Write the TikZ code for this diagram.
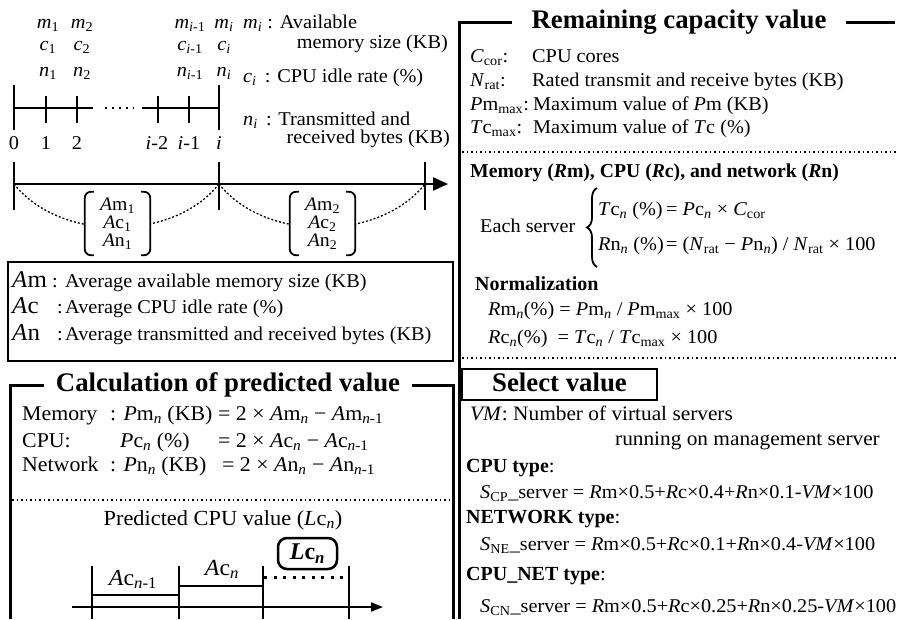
\documentclass[tikz,border=0pt]{standalone}
\usepackage{fontspec}
\setmainfont{Liberation Serif}[UprightFeatures={FakeStretch=1.04},ItalicFeatures={FakeStretch=1.04}]
\usetikzlibrary{arrows.meta,decorations.pathreplacing}
\newcommand\sbs[1]{\textsubscript{#1}}
\newcommand\isb[1]{\textsubscript{\textit{#1}}}
\begin{document}
\begin{tikzpicture}[x=1pt,y=-1pt,
  txt/.style={inner sep=0pt,anchor=west,text height=14pt,text depth=4pt,font=\fontsize{19.5}{22}\selectfont},
  mid/.style={txt,anchor=center},
  big/.style={txt,font=\fontsize{24}{26}\selectfont},
  calc/.style={txt,font=\fontsize{21}{23}\selectfont},
  wide/.style={txt,font=\fontsize{20.5}{23}\selectfont},
  hd/.style={txt,font=\fontsize{20}{22}\selectfont\bfseries},
  ttl/.style={inner sep=0pt,text height=18pt,text depth=5pt,font=\fontsize{26.8}{28}\selectfont\bfseries},
  frame/.style={line width=3pt},
  thinframe/.style={line width=1.5pt},
  axis/.style={line width=2pt},
  dotline/.style={line width=1.5pt,dash pattern=on 1.5pt off 3pt},
  arcline/.style={line width=1.3pt,dash pattern=on 2pt off 2pt},
  bracketed/.style={fill=white,inner sep=0pt,minimum width=65pt,minimum height=63pt,align=center,font=\fontsize{19}{18}\selectfont},
]
\useasboundingbox (0,0) rectangle (897,619);

% ---------- sampling timeline ----------
\coordinate (a0) at (14,108);
\coordinate (a2) at (93,108);
\coordinate (a3) at (142,108);
\coordinate (ai) at (219,108);
\draw[axis] (a0) -- (a2);
\draw[axis] (a3) -- (ai);
\draw[line width=2pt,dash pattern=on 2pt off 5pt] (105,108) -- (134,108);
\foreach \x in {14,219} \draw[axis] (\x,85) -- (\x,130);
\foreach \x in {46,77,158,189} \draw[axis] (\x,96) -- (\x,123);

\node[mid] (t0) at (14,144) {0};
\node[mid] (t1) at (46,144) {1};
\node[mid] (t2) at (77,144) {2};
\node[mid] (ti2) at (157,144) {\textit{i}-2};
\node[mid] (ti1) at (189,144) {\textit{i}-1};
\node[mid] (ti) at (219,144) {\textit{i}};

\node[mid] (m1) at (48,23) {\textit{m}\sbs{1}};
\node[mid] (c1) at (48,45) {\textit{c}\sbs{1}};
\node[mid] (n1) at (48,71) {\textit{n}\sbs{1}};
\node[mid] (m2) at (82,23) {\textit{m}\sbs{2}};
\node[mid] (c2) at (82,45) {\textit{c}\sbs{2}};
\node[mid] (n2) at (82,71) {\textit{n}\sbs{2}};
\node[mid] (mi1) at (190,23) {\textit{m}\textsubscript{\textit{i}-1}};
\node[mid] (ci1) at (190,45) {\textit{c}\textsubscript{\textit{i}-1}};
\node[mid] (ni1) at (190,71) {\textit{n}\textsubscript{\textit{i}-1}};
\node[mid] (mi) at (224,23) {\textit{m}\isb{i}};
\node[mid] (ci) at (224,45) {\textit{c}\isb{i}};
\node[mid] (ni) at (224,71) {\textit{n}\isb{i}};

\node[txt] (lm) at (243,23) {\textit{m}\isb{i} : Available};
\node[txt,anchor=east] (lm2) at (448,43) {memory size (KB)};
\node[txt] (lc) at (243,77) {\textit{c}\isb{i} \,: CPU idle rate (\%)};
\node[txt] (ln) at (243,120) {\textit{n}\isb{i} \,: Transmitted and};
\node[txt,anchor=east] (ln2) at (450,138) {received bytes (KB)};

% ---------- averaging intervals ----------
\coordinate (b0) at (14,184);
\coordinate (b1) at (219,184);
\coordinate (b2) at (425,184);
\coordinate (bend) at (448,184);
\draw[line width=2.2pt,-{Triangle[length=15pt,width=13pt]}] (b0) -- (bend);
\foreach \x in {14,219,425} \draw[axis] (\x,162) -- (\x,210);
\draw[arcline] (b0) .. controls (60,242) and (173,242) .. (b1);
\draw[arcline] (b1) .. controls (265,242) and (379,242) .. (b2);

\node[bracketed] (g1) at (117.5,223.5) {\textit{A}m\sbs{1}\\\textit{A}c\sbs{1}\\\textit{A}n\sbs{1}};
\node[bracketed] (g2) at (322.5,223.5) {\textit{A}m\sbs{2}\\\textit{A}c\sbs{2}\\\textit{A}n\sbs{2}};
\foreach \g in {g1,g2}{
  \draw[line width=1.8pt,rounded corners=6pt] ([xshift=9pt]\g.north west) -- (\g.north west) -- (\g.south west) -- ([xshift=9pt]\g.south west);
  \draw[line width=1.8pt,rounded corners=6pt] ([xshift=-9pt]\g.north east) -- (\g.north east) -- (\g.south east) -- ([xshift=-9pt]\g.south east);
}

% ---------- average legend ----------
\draw[thinframe] (8,262) rectangle (453,361);
\node[big] (kam) at (12,282) {\textit{A}m};
\node[txt] (cam) at (52,282) {:};
\node[txt] (dam) at (65,282) {Average available memory size (KB)};
\node[big] (kac) at (12,308) {\textit{A}c};
\node[txt] (cac) at (57,308) {:};
\node[txt] (dac) at (65,308) {Average CPU idle rate (\%)};
\node[big] (kan) at (12,335) {\textit{A}n};
\node[txt] (can) at (57,335) {:};
\node[txt] (dan) at (65,335) {Average transmitted and received bytes (KB)};

% ---------- predicted value ----------
\draw[frame] (10,619) -- (10,385) -- (453,385) -- (453,619);
\node[ttl,fill=white,inner xsep=12pt] (calc) at (228,385) {Calculation of predicted value};

\node[calc] (pm0) at (22,415) {Memory};
\node[calc] (pm1) at (110,415) {: \textit{P}m\isb{n} (KB)};
\node[calc] (pm2) at (218,415) {= 2 × \textit{A}m\isb{n} − \textit{A}m\textsubscript{\textit{n}-1}};
\node[calc] (pc0) at (22,442) {CPU:};
\node[calc] (pc1) at (120,442) {\textit{P}c\isb{n} (\%)};
\node[calc] (pc2) at (218,442) {= 2 × \textit{A}c\isb{n} − \textit{A}c\textsubscript{\textit{n}-1}};
\node[calc] (pn0) at (22,466) {Network};
\node[calc] (pn1) at (110,466) {: \textit{P}n\isb{n} (KB)};
\node[calc] (pn2) at (222,466) {= 2 × \textit{A}n\isb{n} − \textit{A}n\textsubscript{\textit{n}-1}};

\draw[dotline] (12,500) -- (450,500);
\node[mid,font=\fontsize{21.5}{23}\selectfont] (lcap) at (223,520) {Predicted CPU value (\textit{L}c\isb{n})};

\coordinate (x0) at (72,607);
\coordinate (x1) at (383,607);
\draw[line width=1.8pt,-{Triangle[length=12pt,width=9pt]}] (x0) -- (x1);
\foreach \x in {92,179,263,349} \draw[line width=1.5pt] (\x,566) -- (\x,619);
\draw[line width=2.5pt] (92,595) -- (179,595);
\draw[line width=2.5pt] (179,586) -- (263,586);
\draw[line width=3pt,dash pattern=on 3pt off 6.5pt] (264,577) -- (349,577);
\node[mid,font=\fontsize{23}{25}\selectfont] (acp) at (133,580) {\textit{A}c\textsubscript{\textit{n}-1}};
\node[mid,font=\fontsize{23}{25}\selectfont] (acn) at (222,570) {\textit{A}c\isb{n}};
\node[draw,line width=2.5pt,rounded corners=9pt,minimum width=59pt,minimum height=31pt,inner sep=0pt,font=\fontsize{24}{26}\selectfont\bfseries] (lcn) at (307.5,553.5) {\textit{L}c\textsubscript{\textit{n}}};

% ---------- remaining capacity ----------
\draw[frame] (895,22) -- (459,22) -- (459,619);
\node[ttl,fill=white,inner xsep=20pt] (rem) at (679,22) {Remaining capacity value};

\node[txt] (kc) at (470,57) {\textit{C}\sbs{cor}:};
\node[txt] (dc) at (532,57) {CPU cores};
\node[txt] (kn) at (470,81) {\textit{N}\sbs{rat}:};
\node[txt] (dn) at (532,81) {Rated transmit and receive bytes (KB)};
\node[txt] (kp) at (470,105) {\textit{P}m\sbs{max}:};
\node[txt] (dp) at (533,105) {Maximum value of \textit{P}m (KB)};
\node[txt] (kt) at (470,128) {\textit{T}c\sbs{max}:};
\node[txt] (dt) at (533,128) {Maximum value of \textit{T}c (\%)};

\draw[dotline] (462,152) -- (897,152);
\node[hd,font=\fontsize{19.7}{22}\selectfont\bfseries] (rh) at (470,172) {Memory (\textit{R}m), CPU (\textit{R}c), and network (\textit{R}n)};
\node[txt] (each) at (480,227) {Each server};
\draw[line width=1.8pt,decorate,decoration={brace,amplitude=10pt}] (597,267) -- (597,188);
\node[txt] (tc0) at (598,210) {\textit{T}c\isb{n} (\%)};
\node[txt] (tc1) at (666,210) {= \textit{P}c\isb{n} × \textit{C}\sbs{cor}};
\node[txt] (rn0) at (598,245) {\textit{R}n\isb{n} (\%)};
\node[txt] (rn1) at (666,245) {= (\textit{N}\sbs{rat} − \textit{P}n\isb{n}) / \textit{N}\sbs{rat} × 100};

\node[hd] (norm) at (475,285) {Normalization};
\node[txt] (rm) at (488,310) {\textit{R}m\isb{n}(\%) = \textit{P}m\isb{n} / \textit{P}m\sbs{max} × 100};
\node[txt] (rc) at (488,338) {\textit{R}c\isb{n}(\%) \ = \textit{T}c\isb{n} / \textit{T}c\sbs{max} × 100};

% ---------- selection ----------
\draw[dotline] (462,358) -- (897,358);
\node[draw,line width=2pt,minimum width=195pt,minimum height=31pt,inner sep=0pt,ttl] (sel) at (559.5,384.5) {Select value};
\node[wide] (vm) at (470,415) {\textit{VM}: Number of virtual servers};
\node[wide,anchor=east] (vm2) at (880,440) {running on management server};
\node[hd] (cpt) at (466,467) {CPU type\textmd{:}};
\node[txt] (scp) at (480,493) {\textit{S}\sbs{CP}\_server = \textit{R}m×0.5+\textit{R}c×0.4+\textit{R}n×0.1-\textit{VM}×100};
\node[hd] (net) at (466,518) {NETWORK type\textmd{:}};
\node[txt] (sne) at (480,545) {\textit{S}\sbs{NE}\_server = \textit{R}m×0.5+\textit{R}c×0.1+\textit{R}n×0.4-\textit{VM}×100};
\node[hd] (cnt) at (466,575) {CPU\_NET type\textmd{:}};
\node[txt] (scn) at (480,607) {\textit{S}\sbs{CN}\_server = \textit{R}m×0.5+\textit{R}c×0.25+\textit{R}n×0.25-\textit{VM}×100};
\end{tikzpicture}
\end{document}
